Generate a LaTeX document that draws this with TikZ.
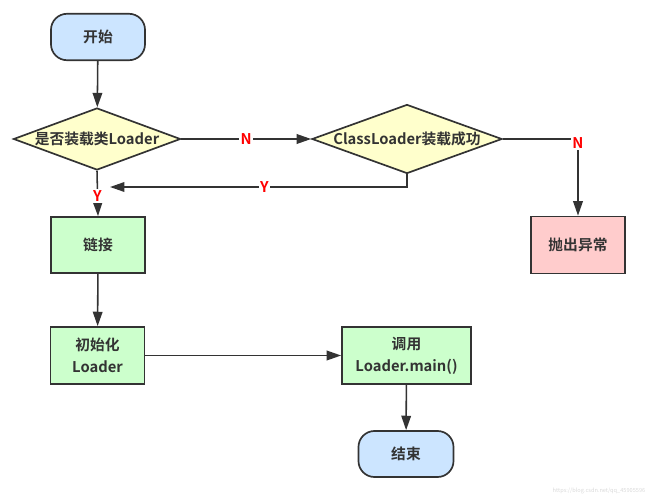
\documentclass[tikz,border=0pt]{standalone}
\usepackage{fontspec}
\setmainfont{Noto Sans CJK SC}[BoldFont={Noto Sans CJK SC Bold}]
\usetikzlibrary{shapes.geometric,arrows.meta}
\definecolor{linegray}{HTML}{333333}
\definecolor{termblue}{HTML}{CCE5FF}
\definecolor{askyellow}{HTML}{FFFFCC}
\definecolor{stepgreen}{HTML}{CCFFCC}
\definecolor{errpink}{HTML}{FFCCCC}
\begin{document}
\begin{tikzpicture}[x=0.025cm,y=-0.025cm,
    every node/.style={font=\fontsize{10.5}{15.5}\selectfont\bfseries,text=linegray},
    box/.style={draw=linegray,line width=1.2pt,minimum width=2.35cm,minimum height=1.425cm,align=center},
    terminal/.style={box,fill=termblue,rounded corners=0.4cm,minimum height=1.16cm},
    process/.style={box,fill=stepgreen},
    decision/.style={diamond,draw=linegray,line width=1.2pt,fill=askyellow,inner sep=0pt},
    yn/.style={text=red,fill=white,inner sep=1pt},
    flow/.style={draw=linegray,line width=1.1pt,-{Triangle[length=0.36cm,width=0.24cm]}}]
    \useasboundingbox (0,0) rectangle (646,500);
    \node[terminal] (start) at (98,37) {开始};
    \node[decision,minimum width=4.175cm,minimum height=1.55cm,label=center:{是否装载类Loader}] (load) at (97,139) {};
    \node[decision,minimum width=4.75cm,minimum height=1.725cm,label=center:{ClassLoader装载成功}] (clsload) at (407,139) {};
    \node[box,fill=errpink] (throw) at (578,245) {抛出异常};
    \node[process,minimum height=1.4cm] (link) at (98,245) {链接};
    \node[process] (init) at (97.5,355.5) {初始化\\Loader};
    \node[process,minimum width=3.225cm] (call) at (406.5,355.5) {调用\\Loader.main()};
    \node[terminal,minimum width=2.375cm,minimum height=1.15cm] (stop) at (406,454) {结束};
    \coordinate (back) at (110,187);
    \draw[flow] (start) -- (load);
    \draw[flow] (load.east) -- node[yn]{N} (clsload.west);
    \draw[flow] (clsload.south) |- node[yn,pos=0.74]{Y} (back);
    \draw[flow] (clsload.east) -| node[yn,pos=0.5,yshift=-3pt]{N} (throw.north);
    \draw[flow] (load.south) -- node[yn,yshift=-2pt]{Y} (link.north);
    \draw[flow] (link) -- (init);
    \draw[flow] (init) -- (call);
    \draw[flow] (call) -- (stop);
    \node[font=\fontsize{4}{5}\selectfont,text=black!15] (mark) at (599,491) {https://blog.csdn.net/qq\_45905596};
\end{tikzpicture}
\end{document}
